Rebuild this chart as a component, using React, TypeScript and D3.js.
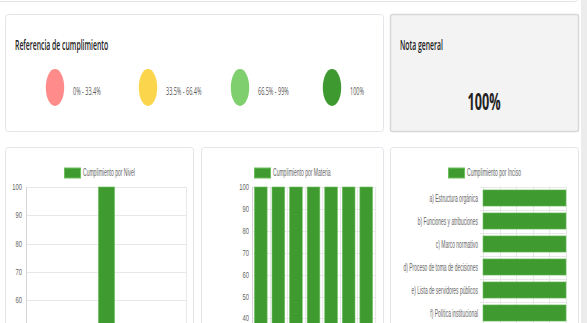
import React from "react";
import * as d3 from "d3";

const rangeLabels = ["0% - 33.4%", "33.5% - 66.4%", "66.5% - 99%", "100%"];
const rangeColors = ["#ff8b8b", "#fbd54b", "#80cf6f", "#3e9a30"];
const notaGeneral = "100%";

const niveles = ["Nivel"];
const nivelValues = [100];

const materias = ["M1", "M2", "M3", "M4", "M5", "M6", "M7"];
const materiaValues = [100, 100, 100, 100, 100, 100, 100];

const incisos = [
  "a) Estructura orgánica",
  "b) Funciones y atribuciones",
  "c) Marco normativo",
  "d) Proceso de toma de decisiones",
  "e) Lista de servidores públicos",
  "f) Política institucional",
];
const incisoValues = [100, 100, 100, 100, 100, 100];

const GREEN = "#3f9a2f";
const GREEN_BORDER = "#6cbf5c";
const GRID = "#e8e8e8";
const TICK = "#666";
const VIEW_H = 323;

function T({ x, y, sx = 0.5, size = 10, anchor = "start", weight = 400, fill = TICK, family = "'Liberation Sans', Arial, sans-serif", children }: any) {
  return (
    <text
      transform={`translate(${x},${y}) scale(${sx},1)`}
      fontSize={size}
      fontFamily={family}
      fontWeight={weight}
      textAnchor={anchor}
      fill={fill}
    >
      {children}
    </text>
  );
}

function ChartLegend({ x, y, label }: any) {
  return (
    <g>
      <rect x={x + 0.5} y={y + 0.5} width={16} height={10} fill={GREEN} stroke={GREEN_BORDER} strokeWidth={1} />
      <T x={x + 19} y={y + 8.5} sx={0.48} size={10.5}>{label}</T>
    </g>
  );
}

export default function App() {
  const x1 = d3.scaleBand().domain(niveles).range([26, 187]).paddingInner(0.9).paddingOuter(0.45);
  const y1 = d3.scaleLinear().domain([0, 100]).range([470, 187]);
  const x2 = d3.scaleBand().domain(materias).range([252, 375]).paddingInner(0.28).paddingOuter(0.14);
  const y2 = d3.scaleLinear().domain([0, 100]).range([406, 187]);
  const y3 = d3.scaleBand().domain(incisos).range([186.5, 324.5]).paddingInner(0.3).paddingOuter(0.15);
  const x3 = d3.scaleLinear().domain([0, 100]).range([483, 566]);

  const ticks1 = y1.ticks(10);
  const ticks2 = y2.ticks(10);
  const ticks3 = x3.ticks(5);

  const ellX = [55, 148, 240, 332];

  return (
    <svg width={587} height={323} style={{ position: "absolute", left: 0, top: 0, background: "#fff" }}>
      <rect x={0} y={0} width={587} height={323} fill="#fff" />
      <rect x={-5.5} y={-20.5} width={583} height={22} rx={3} fill="#fff" stroke="#e2e5e8" />
      <rect x={581} y={0} width={6} height={323} fill="#ececec" />

      {/* Card 1 */}
      <rect x={5.5} y={14.5} width={378} height={117} rx={3} fill="#fff" stroke="#e2e6ea" />
      <T x={15} y={50} sx={0.49} size={14} weight={600} fill="#222" family="'Open Sans', sans-serif">
        Referencia de cumplimiento
      </T>
      {rangeLabels.map((l, i) => (
        <g key={l}>
          <ellipse cx={ellX[i]} cy={87.5} rx={9.2} ry={18.5} fill={rangeColors[i]} />
          <T x={ellX[i] + 18} y={95} sx={0.5} size={11} fill="#555" family="'Open Sans', sans-serif">{l}</T>
        </g>
      ))}

      {/* Card 2 */}
      <rect x={390.5} y={14.5} width={188} height={117} rx={2} fill="#f3f3f3" stroke="#d8d8d8" strokeWidth={1.5} />
      <T x={400} y={50} sx={0.49} size={14} weight={600} fill="#222" family="'Open Sans', sans-serif">
        Nota general
      </T>
      <T x={484} y={110} sx={0.55} size={23} weight={700} anchor="middle" fill="#222" family="'Open Sans', sans-serif">
        {notaGeneral}
      </T>

      {/* Bottom cards */}
      <rect x={5.5} y={147.5} width={188} height={200} rx={3} fill="#fff" stroke="#e2e6ea" />
      <rect x={201.5} y={147.5} width={182} height={200} rx={3} fill="#fff" stroke="#e2e6ea" />
      <rect x={390.5} y={147.5} width={188} height={200} rx={3} fill="#fff" stroke="#e2e6ea" />

      {/* Chart 1 */}
      <ChartLegend x={64} y={167.5} label="Cumplimiento por Nivel" />
      {ticks1.map((t) => (
        <g key={t}>
          <line x1={26} x2={187} y1={Math.round(y1(t)) + 0.5} y2={Math.round(y1(t)) + 0.5} stroke={GRID} />
          {y1(t) + 3 <= VIEW_H && <T x={22} y={y1(t) + 3} sx={0.62} size={9.5} anchor="end">{t}</T>}
        </g>
      ))}
      <line x1={26.5} x2={26.5} y1={187} y2={470} stroke="#d6d6d6" />
      <line x1={186.5} x2={186.5} y1={187} y2={470} stroke={GRID} />
      {niveles.map((c, i) => (
        <rect key={c} x={x1(c)!} y={y1(nivelValues[i])} width={x1.bandwidth()} height={y1(0) - y1(nivelValues[i])} fill={GREEN} stroke={GREEN_BORDER} strokeWidth={0.6} />
      ))}

      {/* Chart 2 */}
      <ChartLegend x={254} y={167.5} label="Cumplimiento por Materia" />
      {ticks2.map((t) => (
        <g key={t}>
          <line x1={252} x2={375} y1={Math.round(y2(t)) + 0.5} y2={Math.round(y2(t)) + 0.5} stroke={GRID} />
          {y2(t) + 3 <= VIEW_H && <T x={249} y={y2(t) + 3} sx={0.62} size={9.5} anchor="end">{t}</T>}
        </g>
      ))}
      {d3.range(materias.length + 1).map((i) => {
        const xx = Math.round(252 + i * x2.step()) + 0.5;
        return <line key={i} x1={xx} x2={xx} y1={187} y2={406} stroke={i === 0 ? "#d6d6d6" : GRID} />;
      })}
      {materias.map((c, i) => (
        <rect key={c} x={x2(c)!} y={y2(materiaValues[i])} width={x2.bandwidth()} height={y2(0) - y2(materiaValues[i])} fill={GREEN} stroke={GREEN_BORDER} strokeWidth={0.6} />
      ))}

      {/* Chart 3 */}
      <ChartLegend x={448} y={167.5} label="Cumplimiento por Inciso" />
      {ticks3.map((t) => (
        <line key={t} x1={Math.round(x3(t)) + 0.5} x2={Math.round(x3(t)) + 0.5} y1={186.5} y2={330} stroke={GRID} />
      ))}
      {d3.range(incisos.length + 1).map((i) => {
        const yy = Math.round(186.5 + i * y3.step()) + 0.5;
        return <line key={i} x1={480} x2={566} y1={yy} y2={yy} stroke={GRID} />;
      })}
      {incisos.map((c, i) => (
        <g key={c}>
          <rect x={x3(0)} y={y3(c)!} width={x3(incisoValues[i]) - x3(0)} height={y3.bandwidth()} fill={GREEN} stroke={GREEN_BORDER} strokeWidth={0.6} />
          <T x={478} y={y3(c)! + y3.bandwidth() / 2 + 3.5} sx={0.47} size={10.5} anchor="end">{c}</T>
        </g>
      ))}
    </svg>
  );
}
